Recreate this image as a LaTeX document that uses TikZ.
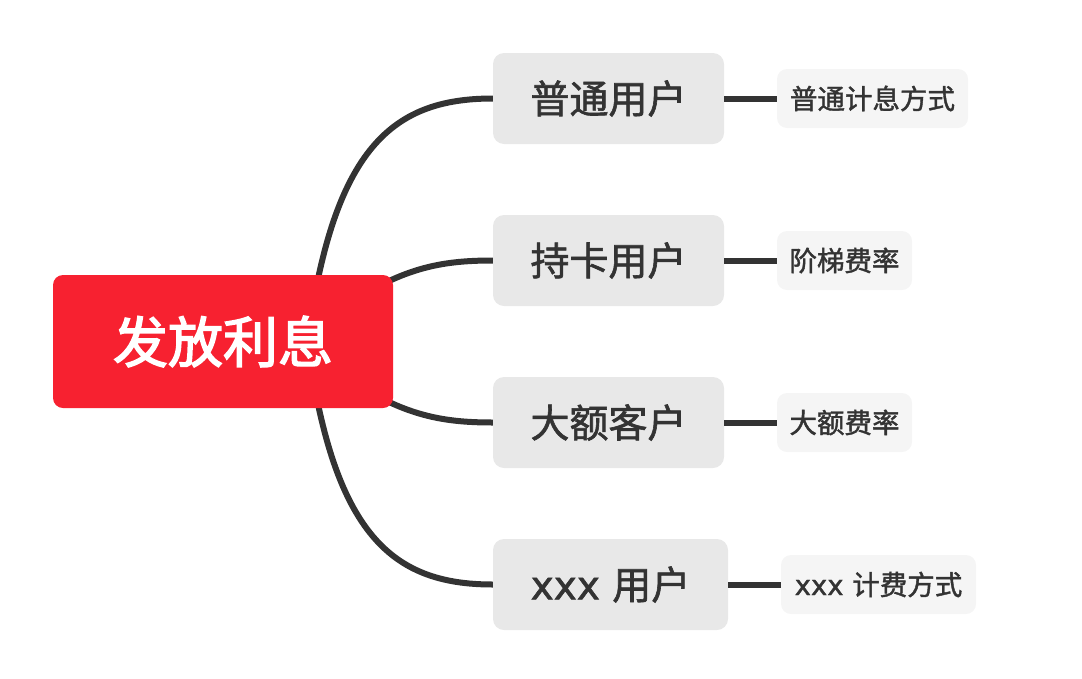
\documentclass[tikz,border=0pt]{standalone}
\usepackage{fontspec}
\setmainfont{Noto Sans CJK SC}
\newfontfamily\latinfont{DejaVu Sans}
\newcommand{\heavytext}[2]{\special{pdf:literal 2 Tr #1 w}#2\special{pdf:literal 0 Tr}}
\definecolor{rootred}{HTML}{F72130}
\definecolor{lvone}{HTML}{E8E8E8}
\definecolor{lvtwo}{HTML}{F5F5F5}
\definecolor{ink}{HTML}{333333}
\tikzset{
  rootbox/.style={fill=rootred, rounded corners=10pt, inner sep=0pt, text=white,
    font=\fontsize{55}{60}\selectfont, minimum width=340pt, minimum height=133pt},
  topicbox/.style={fill=lvone, rounded corners=11pt, inner sep=0pt, text=ink,
    font=\fontsize{39}{44}\selectfont, minimum height=91pt},
  leafbox/.style={fill=lvtwo, rounded corners=10pt, inner sep=0pt, text=ink,
    font=\fontsize{27.5}{30}\selectfont, minimum height=59pt},
  branch/.style={draw=ink, line width=6pt},
}
\begin{document}
\begin{tikzpicture}[x=1pt,y=-1pt]
\useasboundingbox (0,0) rectangle (1082,678);
% topic nodes
\node[topicbox, minimum width=231pt] (t1) at (608.5,98.5) {\heavytext{0.6}{普通用户}};
\node[topicbox, minimum width=231pt] (t2) at (608.5,260.5) {\heavytext{0.6}{持卡用户}};
\node[topicbox, minimum width=231pt] (t3) at (608.5,422.5) {\heavytext{0.6}{大额客户}};
\node[topicbox, minimum width=235pt] (t4) at (610.5,584.5) {\heavytext{0.6}{{\latinfont xxx }用户}};
% leaf nodes
\node[leafbox, minimum width=191pt] (l1) at (872.5,98.5) {\heavytext{0.4}{普通计息方式}};
\node[leafbox, minimum width=135pt] (l2) at (844.5,260.5) {\heavytext{0.4}{阶梯费率}};
\node[leafbox, minimum width=135pt] (l3) at (844.5,422.5) {\heavytext{0.4}{大额费率}};
\node[leafbox, minimum width=195pt] (l4) at (878.5,584.5) {\heavytext{0.4}{{\latinfont xxx }计费方式}};
% root anchor coordinates for branches (hidden behind root)
\coordinate (r1) at (305,360);
\coordinate (r2) at (340,310);
\coordinate (r3) at (340,373);
\coordinate (r4) at (305,323);
% branches
\draw[branch] (r1) .. controls (330,150) and (390,98.5) .. (t1.west);
\draw[branch] (r2) .. controls (400,268) and (440,260.5) .. (t2.west);
\draw[branch] (r3) .. controls (400,415) and (440,422.5) .. (t3.west);
\draw[branch] (r4) .. controls (330,533) and (390,584.5) .. (t4.west);
\draw[branch] (t1.east) -- (l1.west);
\draw[branch] (t2.east) -- (l2.west);
\draw[branch] (t3.east) -- (l3.west);
\draw[branch] (t4.east) -- (l4.west);
% root
\node[rootbox] (root) at (223,341.5) {\heavytext{1.4}{发放利息}};
\end{tikzpicture}
\end{document}
